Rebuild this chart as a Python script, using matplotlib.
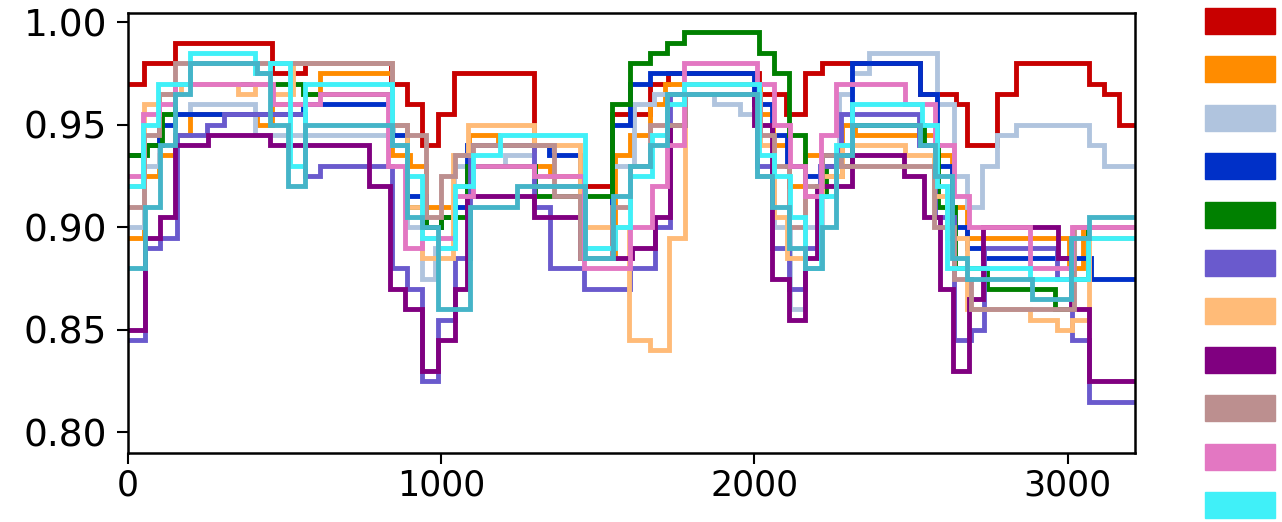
import matplotlib
matplotlib.use("Agg")
import matplotlib.pyplot as plt
from matplotlib.patches import Patch

# ---- data (step breakpoints: x position where each level starts) ----
x_end = 3220

red_x = [0, 50, 150, 460, 565, 840, 890, 940, 990, 1040, 1295, 1545, 1668, 1725, 2015, 2100, 2163, 2216, 2530, 2642, 2680, 2775, 2834, 3068, 3116, 3164]
red_y = [0.97, 0.98, 0.99, 0.975, 0.98, 0.97, 0.96, 0.94, 0.955, 0.975, 0.92, 0.955, 0.97, 0.975, 0.965, 0.955, 0.975, 0.98, 0.965, 0.96, 0.94, 0.965, 0.98, 0.97, 0.965, 0.95]

orange_x = [0, 50, 100, 150, 198, 411, 460, 565, 613, 842, 900, 950, 1040, 1090, 1180, 1295, 1348, 1444, 1555, 1604, 1668, 1716, 2019, 2060, 2110, 2163, 2216, 2280, 2320, 2580, 2630, 2680, 3005, 3050]
orange_y = [0.895, 0.925, 0.935, 0.945, 0.955, 0.95, 0.96, 0.965, 0.975, 0.935, 0.93, 0.91, 0.92, 0.945, 0.94, 0.93, 0.925, 0.885, 0.935, 0.945, 0.96, 0.97, 0.955, 0.94, 0.92, 0.935, 0.925, 0.95, 0.945, 0.935, 0.91, 0.895, 0.88, 0.90]

lsb_x = [0, 50, 100, 198, 406, 847, 890, 938, 980, 1040, 1204, 1295, 1444, 1545, 1614, 1678, 1870, 1955, 2008, 2062, 2115, 2163, 2216, 2269, 2312, 2365, 2584, 2637, 2680, 2727, 2775, 2834, 3068, 3116]
lsb_y = [0.90, 0.93, 0.955, 0.96, 0.945, 0.95, 0.90, 0.875, 0.89, 0.93, 0.935, 0.92, 0.89, 0.93, 0.96, 0.965, 0.96, 0.955, 0.925, 0.90, 0.86, 0.90, 0.93, 0.965, 0.975, 0.985, 0.96, 0.925, 0.91, 0.93, 0.945, 0.95, 0.94, 0.93]

blue_x = [0, 50, 100, 150, 500, 560, 842, 890, 950, 1000, 1044, 1082, 1343, 1444, 1545, 1604, 1668, 2000, 2056, 2104, 2163, 2216, 2312, 2530, 2584, 2630, 2680, 2731, 3073]
blue_y = [0.935, 0.94, 0.95, 0.955, 0.955, 0.96, 0.945, 0.915, 0.90, 0.905, 0.91, 0.94, 0.935, 0.885, 0.95, 0.97, 0.975, 0.96, 0.945, 0.93, 0.925, 0.935, 0.98, 0.965, 0.93, 0.90, 0.89, 0.885, 0.875]

green_x = [0, 60, 110, 150, 560, 842, 890, 950, 1000, 1082, 1300, 1545, 1604, 1668, 1721, 1774, 2014, 2062, 2110, 2163, 2230, 2312, 2540, 2585, 2640, 2744, 2960, 3015, 3064]
green_y = [0.935, 0.94, 0.955, 0.97, 0.965, 0.95, 0.91, 0.90, 0.905, 0.93, 0.915, 0.96, 0.98, 0.985, 0.99, 0.995, 0.985, 0.975, 0.945, 0.915, 0.93, 0.95, 0.94, 0.91, 0.88, 0.87, 0.86, 0.875, 0.90]

slate_x = [0, 54, 102, 155, 251, 305, 565, 613, 842, 890, 938, 991, 1044, 1092, 1295, 1348, 1455, 1604, 1684, 1731, 2008, 2056, 2110, 2163, 2210, 2275, 2525, 2578, 2637, 2690, 2733, 2967, 3015, 3068]
slate_y = [0.845, 0.89, 0.895, 0.945, 0.95, 0.955, 0.925, 0.93, 0.88, 0.87, 0.825, 0.855, 0.885, 0.94, 0.91, 0.88, 0.87, 0.88, 0.90, 0.965, 0.93, 0.89, 0.87, 0.89, 0.93, 0.955, 0.94, 0.905, 0.845, 0.85, 0.89, 0.875, 0.845, 0.815]

lo_x = [0, 50, 100, 170, 352, 406, 460, 528, 842, 890, 938, 1039, 1087, 1295, 1444, 1598, 1668, 1726, 1779, 2019, 2062, 2104, 2163, 2216, 2280, 2482, 2573, 2615, 2680, 2880, 2967, 3015, 3068]
lo_y = [0.92, 0.96, 0.965, 0.97, 0.965, 0.97, 0.965, 0.98, 0.95, 0.91, 0.885, 0.935, 0.95, 0.94, 0.90, 0.845, 0.84, 0.895, 0.965, 0.94, 0.905, 0.885, 0.915, 0.925, 0.94, 0.935, 0.915, 0.895, 0.86, 0.855, 0.85, 0.855, 0.895]

purple_x = [0, 54, 102, 150, 257, 454, 768, 837, 885, 938, 991, 1044, 1082, 1295, 1444, 1556, 1609, 1684, 1731, 1779, 2000, 2056, 2110, 2163, 2200, 2312, 2476, 2540, 2594, 2633, 2684, 2731, 2968, 3010, 3068]
purple_y = [0.85, 0.895, 0.905, 0.94, 0.945, 0.94, 0.92, 0.87, 0.86, 0.83, 0.845, 0.87, 0.915, 0.905, 0.885, 0.885, 0.89, 0.905, 0.95, 0.965, 0.95, 0.875, 0.855, 0.885, 0.92, 0.935, 0.925, 0.905, 0.87, 0.83, 0.865, 0.90, 0.885, 0.86, 0.825]

brown_x = [0, 50, 100, 150, 842, 890, 950, 1000, 1044, 1100, 1359, 1444, 1545, 1604, 1668, 1779, 2019, 2062, 2110, 2163, 2216, 2275, 2573, 2637, 2690, 3020]
brown_y = [0.91, 0.945, 0.965, 0.98, 0.95, 0.945, 0.905, 0.925, 0.935, 0.94, 0.915, 0.885, 0.91, 0.93, 0.95, 0.965, 0.945, 0.93, 0.90, 0.92, 0.935, 0.93, 0.90, 0.875, 0.86, 0.90]

pink_x = [0, 49, 100, 150, 464, 613, 831, 885, 938, 1000, 1044, 1103, 1295, 1455, 1604, 1673, 1721, 1774, 2008, 2062, 2115, 2163, 2211, 2259, 2482, 2578, 2637, 2685, 2880, 3015]
pink_y = [0.925, 0.955, 0.96, 0.97, 0.96, 0.965, 0.93, 0.89, 0.895, 0.895, 0.915, 0.93, 0.925, 0.88, 0.90, 0.92, 0.94, 0.98, 0.97, 0.95, 0.93, 0.915, 0.945, 0.97, 0.96, 0.94, 0.915, 0.90, 0.88, 0.90]

cyan_x = [0, 49, 97, 198, 406, 454, 517, 565, 842, 890, 938, 991, 1044, 1103, 1188, 1460, 1556, 1604, 1673, 1721, 1774, 2014, 2062, 2115, 2163, 2211, 2259, 2312, 2536, 2584, 2615, 2680, 2880, 3064]
cyan_y = [0.92, 0.95, 0.97, 0.985, 0.975, 0.98, 0.93, 0.97, 0.94, 0.925, 0.895, 0.89, 0.92, 0.935, 0.945, 0.89, 0.90, 0.925, 0.945, 0.96, 0.97, 0.935, 0.925, 0.905, 0.88, 0.915, 0.94, 0.96, 0.95, 0.92, 0.88, 0.88, 0.875, 0.895]

teal_x = [0, 54, 102, 150, 198, 411, 454, 512, 565, 842, 890, 938, 991, 1092, 1242, 1460, 1550, 1604, 1668, 1721, 1774, 2008, 2056, 2110, 2163, 2216, 2259, 2312, 2530, 2578, 2632, 2680, 2887, 3010, 3068]
teal_y = [0.88, 0.91, 0.94, 0.965, 0.98, 0.975, 0.95, 0.92, 0.95, 0.94, 0.905, 0.90, 0.86, 0.91, 0.92, 0.885, 0.915, 0.93, 0.94, 0.965, 0.965, 0.925, 0.91, 0.89, 0.88, 0.90, 0.935, 0.95, 0.94, 0.925, 0.885, 0.875, 0.865, 0.895, 0.905]

series = [
    (red_x, red_y, "#c80000"),
    (orange_x, orange_y, "#ff8c00"),
    (lsb_x, lsb_y, "#b0c4de"),
    (blue_x, blue_y, "#0030c8"),
    (green_x, green_y, "#008000"),
    (slate_x, slate_y, "#6a5acd"),
    (lo_x, lo_y, "#ffbb78"),
    (purple_x, purple_y, "#800080"),
    (brown_x, brown_y, "#bc8f8f"),
    (pink_x, pink_y, "#e377c2"),
    (cyan_x, cyan_y, "#40f0f8"),
    (teal_x, teal_y, "#45b4c8"),
]
legend_colors = [c for _, _, c in series[:11]]

fig = plt.figure(figsize=(12.82, 5.22), dpi=100)
ax = fig.add_axes([128 / 1282, 1 - 453 / 522, (1135 - 128) / 1282, (453 - 13) / 522])

for xs, ys, col in series:
    ax.step(list(xs) + [x_end], list(ys) + [ys[-1]], where="post", color=col, lw=3.5, solid_joinstyle="miter")

ax.set_xlim(0, 3215)
ax.set_ylim(0.790, 1.0044)
ax.set_xticks([0, 1000, 2000, 3000])
ax.set_yticks([0.80, 0.85, 0.90, 0.95, 1.00])
ax.set_yticklabels(["0.80", "0.85", "0.90", "0.95", "1.00"])
ax.tick_params(width=1.5, length=8)
ax.tick_params(axis="x", labelsize=25)
ax.tick_params(axis="y", labelsize=27, pad=7)
for s in ax.spines.values():
    s.set_linewidth(1.8)

fs = 14
fpx = fs * 100 / 72
hh = 1.68
handles = [Patch(facecolor=c, edgecolor=c) for c in legend_colors]
fig.legend(handles, [""] * len(handles), loc="upper left",
           bbox_to_anchor=(1205 / 1282, 1 - 8 / 522), frameon=False,
           fontsize=fs, handlelength=70 / fpx, handleheight=hh,
           labelspacing=(48.4 - 26) / fpx, borderpad=0, borderaxespad=0,
           handletextpad=0)

fig.savefig("out.png", dpi=100)
